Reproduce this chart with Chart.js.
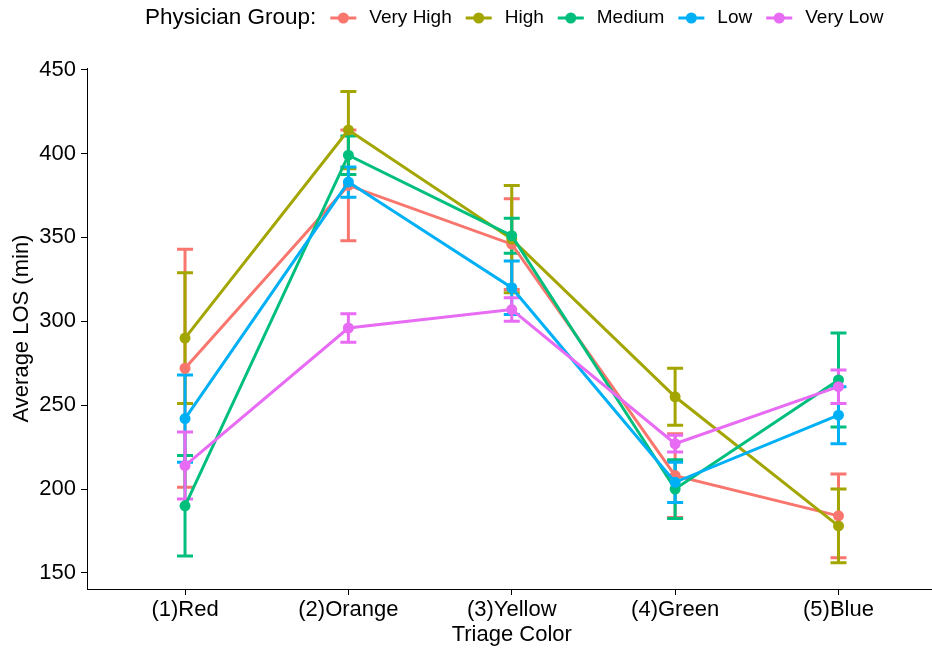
<!DOCTYPE html>
<html>
<head>
<meta charset="utf-8">
<title>Average LOS by Triage Color</title>
<script src="https://cdn.jsdelivr.net/npm/chart.js@4.4.1/dist/chart.umd.min.js"></script>
<style>
  html, body { margin: 0; padding: 0; overflow: hidden; background: #ffffff; }
  #wrap { width: 942px; height: 653px; }
</style>
</head>
<body>
<div id="wrap"><canvas id="c" width="942" height="653"></canvas></div>
<script>
// Triage categories on the x axis
const categories = ['(1)Red', '(2)Orange', '(3)Yellow', '(4)Green', '(5)Blue'];

// Physician groups and their colours
const groups = ['Very High', 'High', 'Medium', 'Low', 'Very Low'];
const groupColors = ['#F8766D', '#A3A500', '#00BF7D', '#00B0F6', '#E76BF3'];

// Mean length of stay (minutes) per triage colour
const losVeryHigh = [272, 381, 346, 208, 184];
const losHigh     = [290, 414, 349, 255, 178];
const losMedium   = [190, 399, 351, 200, 265];
const losLow      = [242, 383, 320, 204, 244];
const losVeryLow  = [214, 296, 307, 227, 261];

// Half-width of the error bars (minutes)
const errVeryHigh = [71, 33, 27, 25, 25];
const errHigh     = [39, 23, 32, 17, 22];
const errMedium   = [30, 11.5, 10.5, 17.5, 28];
const errLow      = [26, 9, 16, 12, 17];
const errVeryLow  = [20, 8.5, 7, 5, 10];

// Y axis tick values
const yTicks = [150, 200, 250, 300, 350, 400, 450];

const meanSeries = [losVeryHigh, losHigh, losMedium, losLow, losVeryLow];
const errSeries  = [errVeryHigh, errHigh, errMedium, errLow, errVeryLow];

const FONT = '"Liberation Sans", Arial, Helvetica, sans-serif';

const datasets = groups.map((g, i) => ({
  label: g,
  data: meanSeries[i].map((v, j) => ({ x: j + 1, y: v })),
  errors: errSeries[i],
  borderColor: groupColors[i],
  backgroundColor: groupColors[i],
  borderWidth: 3,
  pointRadius: 5.5,
  pointHoverRadius: 5.5,
  pointBorderWidth: 0,
  tension: 0,
  // later groups are painted on top
  order: groups.length - i
}));

// Vertical error bars with caps, painted beneath lines and points
const errorBars = {
  id: 'errorBars',
  beforeDatasetsDraw(chart) {
    const { ctx, scales: { x, y } } = chart;
    ctx.save();
    ctx.lineWidth = 3;
    ctx.lineCap = 'butt';
    chart.data.datasets.forEach(ds => {
      ctx.strokeStyle = ds.borderColor;
      ds.data.forEach((p, j) => {
        const e = ds.errors[j];
        const px = x.getPixelForValue(p.x);
        const top = y.getPixelForValue(p.y + e);
        const bot = y.getPixelForValue(p.y - e);
        const half = 8;
        ctx.beginPath();
        ctx.moveTo(px, top); ctx.lineTo(px, bot);
        ctx.moveTo(px - half, top); ctx.lineTo(px + half, top);
        ctx.moveTo(px - half, bot); ctx.lineTo(px + half, bot);
        ctx.stroke();
      });
    });
    ctx.restore();
  }
};

// Horizontal legend with a leading title across the top
const groupLegend = {
  id: 'groupLegend',
  afterDraw(chart) {
    const ctx = chart.ctx;
    const yMid = 18;
    ctx.save();
    ctx.textBaseline = 'middle';
    ctx.textAlign = 'left';
    ctx.fillStyle = '#000';
    ctx.font = `22.5px ${FONT}`;
    let xPos = 145;
    const title = 'Physician Group:';
    ctx.fillText(title, xPos, yMid);
    xPos += ctx.measureText(title).width + 14;
    ctx.font = `19px ${FONT}`;
    chart.data.datasets.forEach(ds => {
      ctx.strokeStyle = ds.borderColor;
      ctx.lineWidth = 3;
      ctx.beginPath();
      ctx.moveTo(xPos, yMid);
      ctx.lineTo(xPos + 26, yMid);
      ctx.stroke();
      ctx.fillStyle = ds.borderColor;
      ctx.beginPath();
      ctx.arc(xPos + 13, yMid, 5.5, 0, Math.PI * 2);
      ctx.fill();
      xPos += 26 + 13;
      ctx.fillStyle = '#000';
      ctx.fillText(ds.label, xPos, yMid);
      xPos += ctx.measureText(ds.label).width + 14;
    });
    ctx.restore();
  }
};

const axisGrid = {
  display: true,
  drawOnChartArea: false,
  drawTicks: true,
  tickLength: 6,
  color: '#000',
  lineWidth: 1
};

new Chart(document.getElementById('c'), {
  type: 'line',
  data: { datasets },
  options: {
    responsive: false,
    animation: false,
    devicePixelRatio: 1,
    layout: { padding: { top: 68, right: 0, bottom: 0, left: 0 } },
    plugins: {
      legend: { display: false },
      tooltip: { enabled: false }
    },
    scales: {
      x: {
        type: 'linear',
        min: 0.4,
        max: 5.6,
        afterBuildTicks(s) { s.ticks = categories.map((c, i) => ({ value: i + 1 })); },
        ticks: {
          callback: v => categories[Math.round(v) - 1],
          color: '#000',
          font: { family: FONT, size: 22 },
          padding: 2,
          autoSkip: false,
          maxRotation: 0
        },
        grid: axisGrid,
        border: { display: true, color: '#000', width: 1 },
        title: {
          display: true,
          text: 'Triage Color',
          color: '#000',
          font: { family: FONT, size: 22 },
          padding: { top: 0, bottom: 5 }
        },
        afterFit(s) { s.height = 64; }
      },
      y: {
        type: 'linear',
        min: 140.4,
        max: 451,
        afterBuildTicks(s) { s.ticks = yTicks.map(v => ({ value: v })); },
        ticks: {
          color: '#000',
          font: { family: FONT, size: 22 },
          padding: 5
        },
        grid: axisGrid,
        border: { display: true, color: '#000', width: 1 },
        title: {
          display: true,
          text: 'Average LOS (min)',
          color: '#000',
          font: { family: FONT, size: 22 },
          padding: { top: 9, bottom: 0 }
        },
        afterFit(s) { s.width = 87; }
      }
    }
  },
  plugins: [errorBars, groupLegend]
});
</script>
</body>
</html>
